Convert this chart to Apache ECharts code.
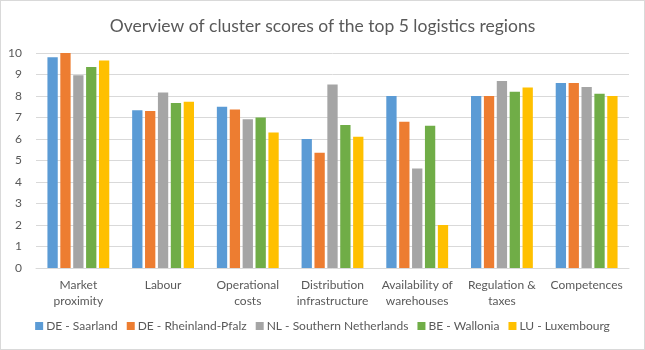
<!DOCTYPE html>
<html>
<head>
<meta charset="utf-8">
<script src="https://cdn.jsdelivr.net/npm/echarts@6/dist/echarts.min.js"></script>
<style>
  html, body { margin: 0; padding: 0; background: #fff; }
  #chart { width: 643px; height: 348px; border: 1px solid #d9d9d9; }
</style>
</head>
<body>
<div id="chart"></div>
<script>
const categories = ['Market\nproximity', 'Labour', 'Operational\ncosts', 'Distribution\ninfrastructure', 'Availability of\nwarehouses', 'Regulation &\ntaxes', 'Competences']
const seriesNames = ['DE - Saarland', 'DE - Rheinland-Pfalz', 'NL - Southern Netherlands', 'BE - Wallonia', 'LU - Luxembourg']
const saarland = [9.8, 7.34, 7.5, 6.0, 8.0, 8.0, 8.6]
const rheinlandPfalz = [10, 7.3, 7.37, 5.36, 6.8, 8.0, 8.6]
const southernNetherlands = [8.96, 8.16, 6.92, 8.53, 4.63, 8.7, 8.42]
const wallonia = [9.35, 7.67, 7.0, 6.65, 6.62, 8.2, 8.1]
const luxembourg = [9.65, 7.73, 6.3, 6.1, 2.0, 8.4, 8.0]
const colors = ['#5B9BD5', '#ED7D31', '#A5A5A5', '#70AD47', '#FFC000']

const values = [saarland, rheinlandPfalz, southernNetherlands, wallonia, luxembourg]
const font = 'Lato, "Open Sans", sans-serif'

const chart = echarts.init(document.getElementById('chart'))
chart.setOption({
  color: colors,
  textStyle: { fontFamily: font },
  title: {
    text: 'Overview of cluster scores of the top 5 logistics regions',
    left: 'center',
    top: 11,
    textStyle: { color: '#595959', fontSize: 17.5, fontWeight: 'normal', fontFamily: font }
  },
  legend: {
    bottom: 12,
    left: 'center',
    itemWidth: 8,
    itemHeight: 8,
    itemGap: 9,
    icon: 'rect',
    textStyle: { color: '#595959', fontSize: 12, fontFamily: font, padding: [0, 0, 0, -2] },
    data: seriesNames
  },
  grid: { left: 35, right: 15, top: 52, bottom: 81 },
  xAxis: {
    type: 'category',
    data: categories,
    axisLine: { lineStyle: { color: '#d9d9d9' } },
    axisTick: { show: false },
    axisLabel: { color: '#595959', fontSize: 12, lineHeight: 16, margin: 9, interval: 0 }
  },
  yAxis: {
    type: 'value',
    min: 0,
    max: 10,
    interval: 1,
    axisLine: { show: false },
    axisTick: { show: false },
    splitLine: { lineStyle: { color: '#d9d9d9' } },
    axisLabel: { color: '#595959', fontSize: 12, margin: 14 }
  },
  series: seriesNames.map((name, i) => ({
    name,
    type: 'bar',
    data: values[i],
    barGap: '25%',
    barCategoryGap: '27%',
    itemStyle: { color: colors[i] }
  }))
})
</script>
</body>
</html>
